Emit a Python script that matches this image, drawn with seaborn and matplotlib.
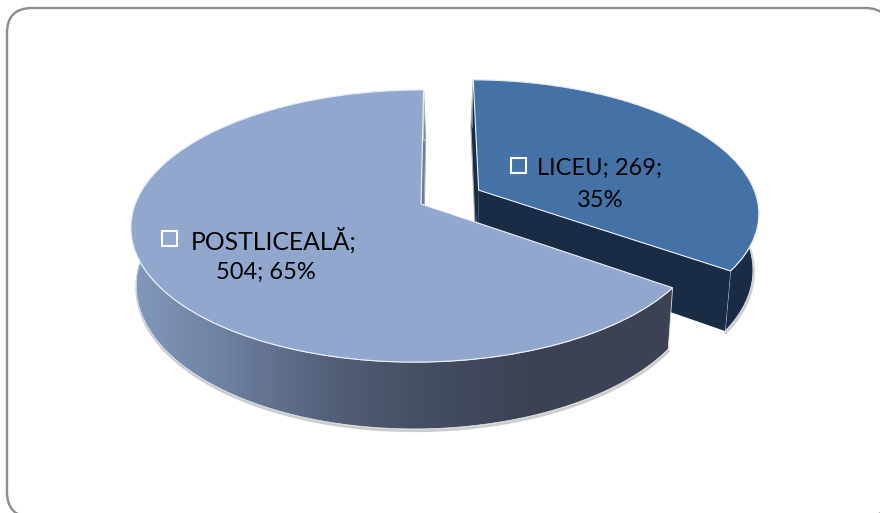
import numpy as np
import matplotlib
matplotlib.use("Agg")
import matplotlib.pyplot as plt
from matplotlib.patches import FancyBboxPatch, Polygon, Rectangle
from matplotlib.transforms import Transform
from matplotlib.colors import LinearSegmentedColormap
import seaborn as sns

# ---- data ----
categories = ["LICEU", "POSTLICEALĂ"]
values = [269, 504]
percent_labels = ["35%", "65%"]
explode = [0.232, 0.0]

# ---- style ----
top_colors = ["#4471A6", "#92A7CE"]
small_side_color = "#1A2C45"
big_side_stops = ["#8298BB", "#6C7E9D", "#525F78", "#434C60", "#3C4254", "#3C4254", "#3C4254"]

sns.set_theme(style="white")
plt.rcParams["font.family"] = ["Lato", "DejaVu Sans"]

# perspective parameters of the pie plane, in pixels
CX, CY, RX, RY, K, M, S = 421.0, 204.0, 283.5, 132.5, 0.162, 0.008, 3.0
DEPTH, SHRINK, X0 = 56.0, 0.982, 430.0


def project(uv):
    uv = np.asarray(uv, float)
    u, v = uv[..., 0], uv[..., 1]
    w = 1 + K * v + M * u
    return np.stack([CX + (RX * u + S * v) / w, CY - RY * v / w], axis=-1)


def drop(uv, shrink=SHRINK, x0=X0):
    """Point on the lower face of the disc, below the projected point uv."""
    uv = np.asarray(uv, float)
    p = project(uv)
    w = 1 + K * uv[..., 1] + M * uv[..., 0]
    return np.stack([x0 + (p[..., 0] - x0) * shrink, p[..., 1] + DEPTH / w], axis=-1)


class Perspective(Transform):
    input_dims = output_dims = 2
    is_separable = False
    has_inverse = False

    def transform_non_affine(self, values):
        return project(values)


fig = plt.figure(figsize=(8.8, 5.13), dpi=100, facecolor="white")
ax = fig.add_axes([0, 0, 1, 1])

wedges, _ = ax.pie(values, explode=explode, startangle=90, counterclock=False,
                   colors=top_colors, radius=1.0, normalize=True)
ax.set_aspect("auto")
ax.set_xlim(0, 880)
ax.set_ylim(513, 0)
ax.axis("off")

frame = FancyBboxPatch((7, 8), 883, 509, boxstyle="round,pad=0,rounding_size=25",
                       fc="white", ec="#8C8C8C", lw=1.7, zorder=0)
ax.add_patch(frame)

persp = Perspective() + ax.transData


def arc_uv(w, n=240):
    t = np.radians(np.linspace(w.theta1, w.theta2, n))
    c = np.asarray(w.center)
    return np.stack([c[0] + w.r * np.cos(t), c[1] + w.r * np.sin(t)], axis=-1)


def shadow(pts, z):
    ax.plot(pts[:, 0] + 0.5, pts[:, 1] + 1.8, color="#BDBDBD", lw=2.0, alpha=0.75, zorder=z,
            solid_capstyle="round")


small, big = wedges
small.set_zorder(6)
big.set_zorder(12)
for w in wedges:
    w.set_transform(persp)
    w.set_edgecolor("#EEF1F6")
    w.set_linewidth(0.8)

# ---- small slice: sides ----
arc = arc_uv(small)
ctr = np.asarray(small.center)
top, bot = project(arc), drop(arc)
shadow(bot, 2)
ax.add_patch(Polygon(np.vstack([top, bot[::-1]]), fc=small_side_color, ec="#DDE0E6", lw=0.6, zorder=4))
for end in (arc[0], arc[-1]):
    seg = np.array([ctr, end])
    ax.add_patch(Polygon(np.vstack([project(seg), drop(seg)[::-1]]), fc=small_side_color,
                         ec="none", zorder=4))
# thin left cut face seen through the gap
left = np.array([ctr, arc[-1]])
ax.add_patch(Polygon(np.vstack([project(left), drop(left, 0.90, 450)[::-1]]), fc=small_side_color,
                     ec="#A8A8A8", lw=0.8, zorder=3))

# ---- big slice: sides ----
arc = arc_uv(big)
ctr = np.asarray(big.center)
top, bot = project(arc), drop(arc)
shadow(bot, 8)
outline = Polygon(np.vstack([top, bot[::-1]]), fc="none", ec="#DDE0E6", lw=0.6, zorder=10,
                  transform=ax.transData)
ax.add_patch(outline)
cmap = LinearSegmentedColormap.from_list("side", big_side_stops)
grad = np.linspace(0, 1, 512)[None, :]
im = ax.imshow(grad, cmap=cmap, extent=(133, 735, 513, 0), aspect="auto", zorder=9,
               interpolation="bilinear")
im.set_clip_path(outline)
ax.set_xlim(0, 880)
ax.set_ylim(513, 0)
# thin back cut face seen through the gap
back = np.array([ctr, [0.0, 1.0]])
ax.add_patch(Polygon(np.vstack([project(back), drop(back, 0.92, 450)[::-1]]), fc="#6C7E9D",
                     ec="#A8A8A8", lw=0.7, zorder=7))

# ---- data labels ----
label_style = dict(fontsize=17, color="black", zorder=20, va="center", ha="center")
ax.text(600, 168.5, f"{categories[0]}; {values[0]};", **label_style)
ax.text(600, 200.5, percent_labels[0], **label_style)
ax.text(273.5, 240.5, f"{categories[1]};", **{**label_style, "fontsize": 17.8})
ax.text(266, 272.5, f"{values[1]}; {percent_labels[1]}", **label_style)
for xy in [(511, 158), (162, 231)]:
    ax.add_patch(Rectangle(xy, 15, 15, fc="none", ec="white", lw=1.5, zorder=20))

fig.savefig("out.png", dpi=100, facecolor="white")
